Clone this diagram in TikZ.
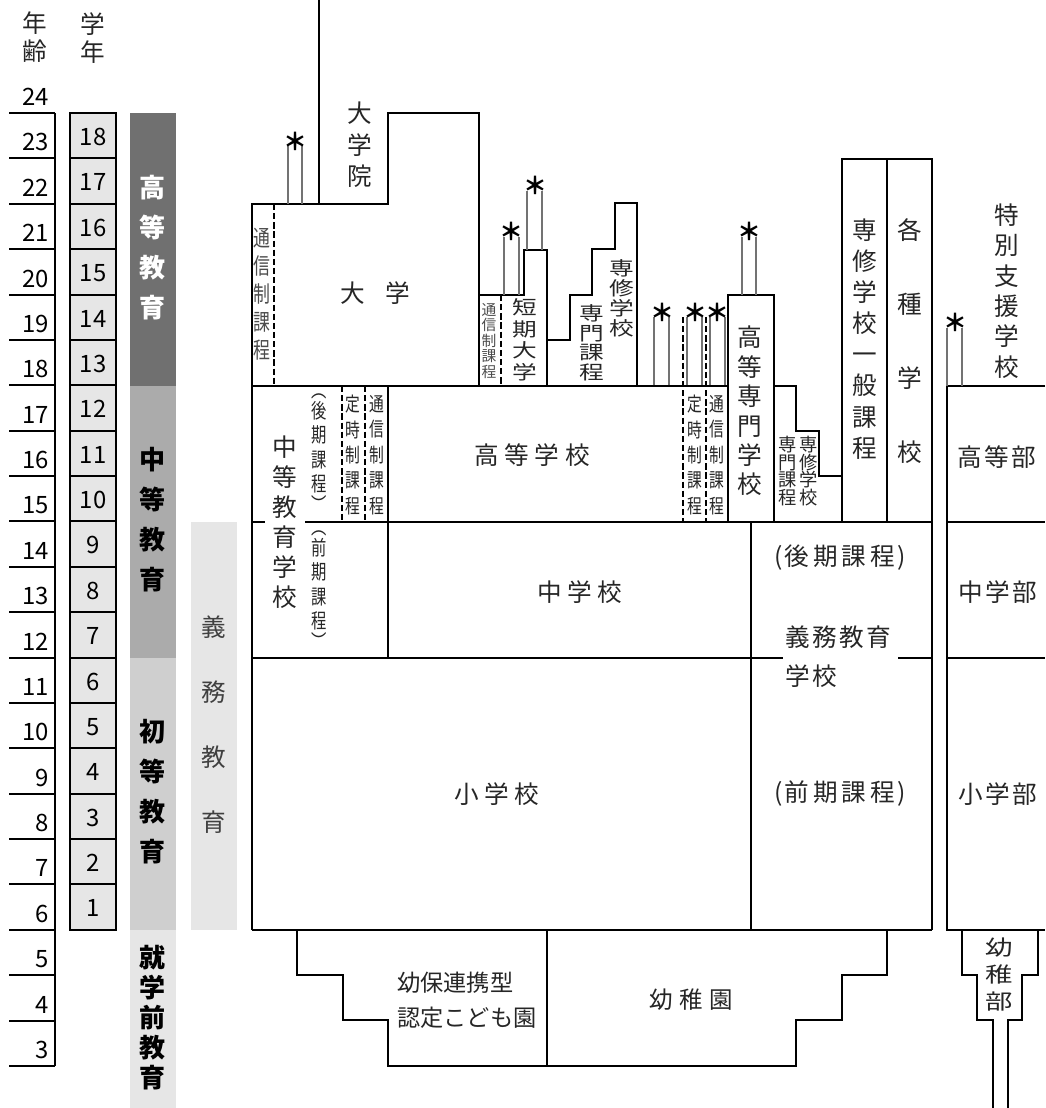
\documentclass[tikz,border=0pt]{standalone}
\usepackage{fontspec}
\setmainfont{Noto Sans CJK JP}
\newfontfamily\jpnarrow[FakeStretch=0.75]{Noto Sans CJK JP}
\newfontfamily\jpwide[FakeStretch=1.3]{Noto Sans CJK JP}
\newcommand\fsz[2]{\fontsize{#1}{#2}\selectfont}
\newcommand\ks{\hspace{4pt}}
\newcommand\kt{\hspace{1.8pt}}
\newcommand\kp{\hspace{2.8pt}}
\definecolor{boxgray}{HTML}{E6E6E6}
\definecolor{bandA}{HTML}{707070}
\definecolor{bandB}{HTML}{ABABAB}
\definecolor{bandC}{HTML}{CFCFCF}
\begin{document}
\begin{tikzpicture}[x=0.025cm,y=-0.025cm,
  lw/.style={line width=1.4pt},
  thinl/.style={line width=0.75pt,black!55},
  dsh/.style={line width=2pt,dash pattern=on 4.5pt off 2pt},
  lb/.style={inner sep=0pt,align=center,text=black!85,font=\fsz{17.5}{22}},
  num/.style={inner sep=0pt,font=\fsz{17}{17}},
  band/.style={inner sep=0pt,align=center,font=\bfseries\fsz{18.5}{28.4}},
  ast/.style={inner sep=0pt,font=\bfseries\fsz{17}{17}}]
\useasboundingbox (0,0) rectangle (1045,1108);
% header
\node[lb,font=\fsz{17.5}{20}] (hage) at (35,37) {年\\齢};
\node[lb,font=\fsz{17.5}{20}] (hgrade) at (93,38) {学\\年};
% ages
\foreach \k in {0,...,21}
  \draw[lw] (9,{113+45.38*\k}) -- (55,{113+45.38*\k});
\draw[lw] (55,113) -- (55,1066);
\foreach \a in {3,...,24}
  \node[num,anchor=east] (age\a) at (49,{113+45.38*(24-\a)-16}) {\a};
% grades
\foreach \g in {1,...,18}{
  \pgfmathsetmacro\yt{113+45.38*(18-\g)}
  \draw[lw,fill=boxgray] (70,\yt) rectangle (116,{\yt+45.38});
  \node[num] (gr\g) at (93,{\yt+24}) {\g};
}
% bands
\fill[bandA] (130,113) rectangle (176,385.5);
\fill[bandB] (130,385.5) rectangle (176,657.8);
\fill[bandC] (130,657.8) rectangle (176,930);
\fill[boxgray] (130,930) rectangle (176,1108);
\fill[boxgray] (191,521.6) rectangle (237,930);
\node[band,text=white] (bhigh) at (153,248) {高\\等\\教\\育};
\node[band] (bsec) at (153,520) {中\\等\\教\\育};
\node[band] (bpri) at (153,792) {初\\等\\教\\育};
\node[band,font=\bfseries\fsz{18.5}{21.3}] (bpre) at (153,1018) {就\\学\\前\\教\\育};
\node[lb,font=\fsz{17.5}{46.2},text=black!75] (bcomp) at (214,725) {義\\務\\教\\育};
% university
\draw[lw] (319,0) -- (319,204);
\draw[lw] (252,930) -- (252,204) -- (388,204) -- (388,113) -- (479,113) -- (479,386);
\draw[dsh] (274,204) -- (274,386);
\draw[thinl] (288,145) -- (288,204) (302,145) -- (302,204);
\node[ast] (s1) at (295,141) {＊};
\node[lb,font=\fsz{17.5}{22.4}] (grad) at (360,145) {大\\学\\院};
\node[lb] (univ) at (375,293) {大\hspace{14.5pt}学};
\node[lb,font=\jpnarrow\fsz{16}{20},text=black!70] (univcorr) at (262,294) {通\\信\\制\\課\\程};
% junior college, senshu
\draw[lw] (479,295) -- (524,295) -- (524,250) -- (547,250) -- (547,386);
\draw[lw] (547,340) -- (570,340) -- (570,295) -- (592,295) -- (592,249) -- (615,249) -- (615,203) -- (637,203) -- (637,386);
\draw[dsh] (501,295) -- (501,386);
\draw[thinl] (504,237) -- (504,295) (519,237) -- (519,295) (527,191) -- (527,250) (542,191) -- (542,250);
\node[ast] (s2) at (511,231) {＊};
\node[ast] (s3) at (535,185) {＊};
\node[lb,font=\fsz{10.5}{11},text=black!70] (jccorr) at (489,341) {通\\信\\制\\課\\程};
\node[lb,font=\jpwide\fsz{13.5}{15.4}] (jc) at (525,340) {短\\期\\大\\学};
\node[lb,font=\jpwide\fsz{13.5}{13.9}] (senmon) at (592,343) {専\\門\\課\\程};
\node[lb,font=\jpwide\fsz{13.5}{14.2}] (senshu) at (622,298) {専\\修\\学\\校};
% upper secondary asterisks
\draw[thinl] (654,317) -- (654,386) (669,317) -- (669,386) (687,317) -- (687,386) (702,317) -- (702,386) (710,317) -- (710,386) (725,317) -- (725,386);
\draw[dsh] (683,317) -- (683,522) (706,317) -- (706,522);
\node[ast] (s4) at (662,312) {＊};
\node[ast] (s5) at (695,312) {＊};
\node[ast] (s6) at (717,312) {＊};
% kosen and others
\draw[lw] (728,522) -- (728,295) -- (774,295) -- (774,522);
\draw[thinl] (742,237) -- (742,295) (756,237) -- (756,295);
\node[ast] (s7) at (749,231) {＊};
\node[lb,font=\fsz{17.5}{20.9}] (kosen) at (750,411) {高\\等\\専\\門\\学\\校};
\draw[lw] (774,386) -- (796,386) -- (796,431) -- (819,431) -- (819,476) -- (842,476);
\node[lb,font=\fsz{13}{12.6}] (ksenmon) at (788,471) {専\\門\\課\\程};
\node[lb,font=\fsz{13}{12.6}] (ksenshu) at (809,471) {専\\修\\学\\校};
\draw[lw] (842,522) -- (842,159) -- (932,159) -- (932,930);
\draw[lw] (887,159) -- (887,522);
\node[lb,font=\fsz{17.5}{22.1}] (general) at (865,339) {専\\修\\学\\校\\一\\般\\課\\程};
\node[lb,font=\fsz{17.5}{52.8}] (misc) at (910,341) {各\\種\\学\\校};
% secondary
\draw[lw] (252,386) -- (728,386);
\draw[lw] (252,522) -- (265,522) (305,522) -- (932,522);
\draw[lw] (388,386) -- (388,658);
\draw[dsh] (342,386) -- (342,522) (365,386) -- (365,522);
\node[lb,font=\fsz{17.5}{21.3}] (sec) at (285,522) {中\\等\\教\\育\\学\\校};
\node[lb,font=\jpnarrow\fsz{14.5}{17.3}] (secl) at (319,453) {︵\\[-2.5pt]後\\期\\課\\程\\[-2.5pt]︶};
\node[lb,font=\jpnarrow\fsz{14.5}{17.3}] (secf) at (319,590) {︵\\[-2.5pt]前\\期\\課\\程\\[-2.5pt]︶};
\node[lb,font=\jpnarrow\fsz{14}{18.1}] (pt1) at (353,455) {定\\時\\制\\課\\程};
\node[lb,font=\jpnarrow\fsz{14}{18.1}] (co1) at (377,455) {通\\信\\制\\課\\程};
\node[lb,font=\jpnarrow\fsz{14}{18.1}] (pt2) at (695,455) {定\\時\\制\\課\\程};
\node[lb,font=\jpnarrow\fsz{14}{18.1}] (co2) at (717,455) {通\\信\\制\\課\\程};
\node[lb] (hs) at (532,455) {高\ks 等\ks 学\ks 校};
\node[lb] (jhs) at (580,592) {中\ks 学\ks 校};
% primary and compulsory school
\draw[lw] (252,658) -- (783,658) (898,658) -- (932,658);
\draw[lw] (751,522) -- (751,930);
\draw[lw] (252,930) -- (932,930);
\node[lb] (es) at (497,794) {小\ks 学\ks 校};
\node[lb] (compl) at (840,558) {(\kt 後\kp 期\kp 課\kp 程\kt )};
\node[lb,align=left,anchor=west,font=\fsz{17.5}{27.7}] (compul) at (785,657) {義\kt 務\kt 教\kt 育\\学\kt 校};
\node[lb] (compf) at (840,794) {(\kt 前\kp 期\kp 課\kp 程\kt )};
% special needs
\draw[lw] (1045,386) -- (947,386) -- (947,930) -- (1045,930);
\draw[lw] (947,522) -- (1045,522) (947,658) -- (1045,658);
\draw[thinl] (947,328) -- (947,386) (962,328) -- (962,386);
\node[ast] (s8) at (955,322) {＊};
\node[lb,font=\fsz{17.5}{21.6}] (sne) at (1007,291) {特\\別\\支\\援\\学\\校};
\node[lb] (sneh) at (997,457) {高\kt 等\kt 部};
\node[lb] (snej) at (998,592) {中\kt 学\kt 部};
\node[lb] (snee) at (998,794) {小\kt 学\kt 部};
% preschool
\draw[lw] (297,930) -- (297,975) -- (343,975) -- (343,1020) -- (388,1020) -- (388,1066) -- (796,1066) -- (796,1020) -- (842,1020) -- (842,975) -- (887,975) -- (887,930);
\draw[lw] (547,930) -- (547,1066);
\node[lb,align=left,anchor=west,font=\fsz{16.5}{24.9}] (nint) at (397,1000) {幼保連携型\\認定こども園};
\node[lb,font=\fsz{16.7}{20}] (kg) at (691,1000) {幼\hspace{4.6pt}稚\hspace{4.6pt}園};
\draw[lw] (962,930) -- (962,975) -- (977,975) -- (977,1020) -- (993,1020) -- (993,1108);
\draw[lw] (1038,930) -- (1038,975) -- (1022,975) -- (1022,1020) -- (1008,1020) -- (1008,1108);
\node[lb,font=\jpwide\fsz{15}{19.2}] (snek) at (999,975) {幼\\稚\\部};
\end{tikzpicture}
\end{document}
